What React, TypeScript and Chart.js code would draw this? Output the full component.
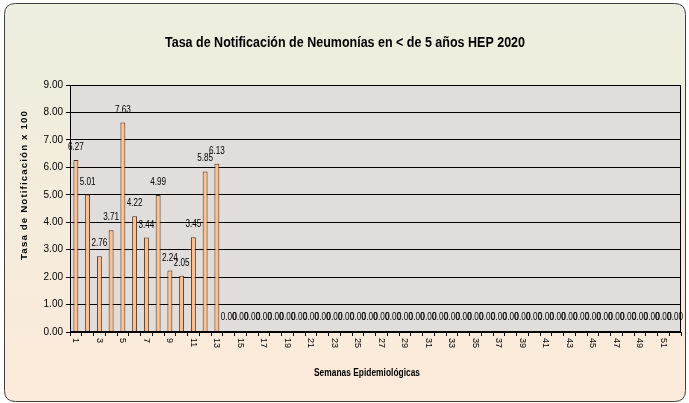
import React, { useEffect, useRef } from "react";
import { Chart, registerables } from "chart.js";

Chart.register(...registerables);

const weeks: string[] = Array.from({ length: 52 }, (_, i) => String(i + 1));
const rates: number[] = [
  6.27, 5.01, 2.76, 3.71, 7.63, 4.22, 3.44, 4.99, 2.24, 2.05, 3.45, 5.85, 6.13,
  0, 0, 0, 0, 0, 0, 0, 0, 0, 0, 0, 0, 0, 0, 0, 0, 0, 0, 0, 0, 0, 0, 0, 0, 0, 0,
  0, 0, 0, 0, 0, 0, 0, 0, 0, 0, 0, 0, 0,
];
const yTicks: number[] = [0, 1, 2, 3, 4, 5, 6, 7, 8, 9];
const titleText = "Tasa de Notificación de Neumonías en < de 5 años HEP 2020";
const yTitle = "Tasa de Notificación x 100";
const xTitle = "Semanas Epidemiológicas";

const FONT = "'Liberation Sans', Arial, sans-serif";

function drawScaled(ctx: any, text: string, x: number, y: number, font: string, sx: number, align: string) {
  ctx.save();
  ctx.font = font;
  ctx.translate(x, y);
  ctx.scale(sx, 1);
  ctx.textAlign = align;
  ctx.textBaseline = "middle";
  ctx.fillText(text, 0, 0);
  ctx.restore();
}

function drawFit(ctx: any, text: string, x: number, y: number, font: string, width: number) {
  ctx.save();
  ctx.font = font;
  const w = ctx.measureText(text).width;
  ctx.restore();
  drawScaled(ctx, text, x, y, font, width / w, "center");
}

const decor = {
  id: "decor",
  beforeDraw(chart: any) {
    const { ctx, chartArea: a, height } = chart;
    ctx.save();
    const g = ctx.createLinearGradient(0, 0, 0, height);
    g.addColorStop(0, "#ECEEDF");
    g.addColorStop(1, "#FCEADA");
    const x0 = 4.5, y0 = 3.5, x1 = 685.5, y1 = 401.5, r = 11;
    ctx.beginPath();
    ctx.moveTo(x0 + r, y0);
    ctx.lineTo(x1 - r, y0);
    ctx.quadraticCurveTo(x1, y0, x1, y0 + r);
    ctx.lineTo(x1, y1 - r);
    ctx.quadraticCurveTo(x1, y1, x1 - r, y1);
    ctx.lineTo(x0 + r, y1);
    ctx.quadraticCurveTo(x0, y1, x0, y1 - r);
    ctx.lineTo(x0, y0 + r);
    ctx.quadraticCurveTo(x0, y0, x0 + r, y0);
    ctx.closePath();
    ctx.fillStyle = g;
    ctx.fill();
    ctx.strokeStyle = "#404040";
    ctx.lineWidth = 1;
    ctx.stroke();
    ctx.fillStyle = "#E0DDDA";
    ctx.fillRect(a.left, a.top, a.right - a.left, a.bottom - a.top);
    ctx.fillStyle = "#000";
    drawFit(ctx, titleText, 345, 43, `bold 14px ${FONT}`, 360);
    drawFit(ctx, xTitle, 367, 373, `bold 11px ${FONT}`, 106);
    ctx.save();
    ctx.translate(25, 185);
    ctx.rotate(-Math.PI / 2);
    (ctx as any).letterSpacing = "1px";
    drawFit(ctx, yTitle, 0, 0, `bold 9px ${FONT}`, 150);
    ctx.restore();
    ctx.restore();
  },
  afterDatasetsDraw(chart: any) {
    const { ctx, chartArea: a } = chart;
    const xs = chart.scales.x;
    const ys = chart.scales.y;
    ctx.save();
    ctx.strokeStyle = "#000";
    ctx.lineWidth = 1;
    ctx.strokeRect(Math.round(a.left) + 0.5, Math.round(a.top) + 0.5, Math.round(a.right - a.left) - 1, Math.round(a.bottom - a.top) - 1);
    ctx.fillStyle = "#000";
    // data labels
    const meta = chart.getDatasetMeta(0);
    meta.data.forEach((bar: any, i: number) => {
      const off = rates[i] === 0 ? 15 : 13;
      drawScaled(ctx, rates[i].toFixed(2), bar.x, bar.y - off, `11px ${FONT}`, 0.74, "center");
    });
    // y tick labels
    yTicks.forEach((v) => {
      drawScaled(ctx, v.toFixed(2), 63, ys.getPixelForValue(v), `10px ${FONT}`, 1, "right");
    });
    // x tick labels (rotated clockwise)
    weeks.forEach((w, i) => {
      if (i % 2 !== 0) return;
      const px = xs.getPixelForValue(i);
      ctx.save();
      ctx.translate(px, 338);
      ctx.rotate(Math.PI / 2);
      ctx.font = `9px ${FONT}`;
      ctx.textAlign = "left";
      ctx.textBaseline = "middle";
      ctx.fillText(w, 0, 0);
      ctx.restore();
    });
    ctx.restore();
  },
};

export default function App() {
  const ref = useRef<HTMLCanvasElement>(null);
  useEffect(() => {
    document.body.style.margin = "0";
    const chart = new Chart(ref.current!, {
      type: "bar",
      data: {
        labels: weeks,
        datasets: [
          {
            data: rates,
            backgroundColor: "#FFC08F",
            borderColor: "#4A3020",
            borderWidth: 1,
            barPercentage: 0.42,
            categoryPercentage: 1,
          },
        ],
      },
      options: {
        animation: false,
        responsive: false,
        maintainAspectRatio: false,
        layout: { padding: { left: 0, right: 8, top: 85, bottom: 0 } },
        plugins: { legend: { display: false }, tooltip: { enabled: false }, title: { display: false } },
        scales: {
          x: {
            afterFit: (s: any) => { s.height = 71; },
            grid: { offset: true, drawOnChartArea: false, drawTicks: true, tickLength: 4, color: "#000" },
            border: { display: true, color: "#000" },
            ticks: { display: false, autoSkip: false },
          },
          y: {
            min: 0,
            max: 9,
            afterFit: (s: any) => { s.width = 70; },
            grid: { color: "#000", tickLength: 4 },
            border: { display: true, color: "#000" },
            ticks: { display: false, stepSize: 1 },
          },
        },
      },
      plugins: [decor],
    });
    return () => chart.destroy();
  }, []);
  return (
    <div style={{ position: "fixed", left: 0, top: 0, width: 689, height: 403 }}>
      <canvas ref={ref} width={689} height={403} style={{ display: "block" }} />
    </div>
  );
}
